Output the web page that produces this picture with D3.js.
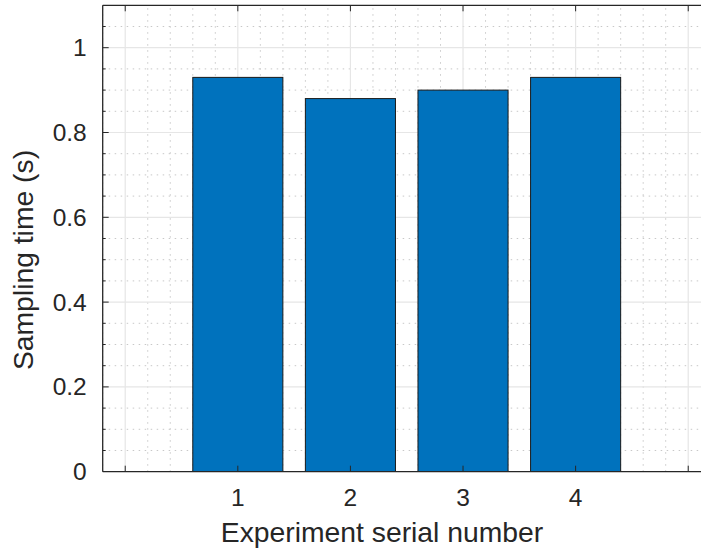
<!DOCTYPE html>
<html>
<head>
<meta charset="utf-8">
<script src="https://cdn.jsdelivr.net/npm/d3@7"></script>
<style>
  body { margin: 0; background: #fff; }
  svg { display: block; font-family: "Liberation Sans", Arial, sans-serif; }
</style>
</head>
<body>
<svg id="chart" width="701" height="550"></svg>
<script>
// data
const experiments = [1, 2, 3, 4];
const samplingTimes = [0.93, 0.88, 0.90, 0.93];
const yTicks = [0, 0.2, 0.4, 0.6, 0.8, 1];
const xTicks = [1, 2, 3, 4];

const W = 701, H = 550;
const margin = {left: 102.7, top: 5.3, bottom: 471.7};
const svg = d3.select("#chart");

// axis spans -0.2..5.2, right edge falls outside the window
const x = d3.scaleLinear().domain([-0.2, 5.2]).range([margin.left, margin.left + 5.4 * 112.6]);
const y = d3.scaleLinear().domain([0, 1.1]).range([margin.bottom, margin.top]);

svg.append("defs").append("clipPath").attr("id", "plotclip")
  .append("rect")
  .attr("x", x(-0.2)).attr("y", y(1.1))
  .attr("width", x(5.2) - x(-0.2)).attr("height", y(0) - y(1.1));

const g = svg.append("g").attr("clip-path", "url(#plotclip)");

// minor grid
const xMinor = d3.range(-0.2, 5.21, 0.2).map(v => +v.toFixed(2)).filter(v => Math.abs(v - Math.round(v)) > 1e-6);
const yMinor = d3.range(0, 1.101, 0.05).map(v => +v.toFixed(2)).filter(v => Math.abs(v * 5 - Math.round(v * 5)) > 1e-6);

g.selectAll(".xminor").data(xMinor).join("line")
  .attr("x1", d => x(d)).attr("x2", d => x(d))
  .attr("y1", y(0)).attr("y2", y(1.1))
  .attr("stroke", "#c8c8c8").attr("stroke-width", 1).attr("stroke-dasharray", "1.5,4.5");
g.selectAll(".yminor").data(yMinor).join("line")
  .attr("y1", d => y(d)).attr("y2", d => y(d))
  .attr("x1", x(-0.2)).attr("x2", x(5.2))
  .attr("stroke", "#c8c8c8").attr("stroke-width", 1).attr("stroke-dasharray", "1.5,4.5");

// major grid
g.selectAll(".xgrid").data([0, 1, 2, 3, 4, 5]).join("line")
  .attr("x1", d => x(d)).attr("x2", d => x(d))
  .attr("y1", y(0)).attr("y2", y(1.1))
  .attr("stroke", "#e6e6e6").attr("stroke-width", 1.2);
g.selectAll(".ygrid").data(yTicks).join("line")
  .attr("y1", d => y(d)).attr("y2", d => y(d))
  .attr("x1", x(-0.2)).attr("x2", x(5.2))
  .attr("stroke", "#e6e6e6").attr("stroke-width", 1.2);

// bars
g.selectAll(".bar").data(experiments).join("rect")
  .attr("x", (d) => x(d - 0.4))
  .attr("width", x(0.8) - x(0))
  .attr("y", (d, i) => y(samplingTimes[i]))
  .attr("height", (d, i) => y(0) - y(samplingTimes[i]))
  .attr("fill", "#0072BD")
  .attr("stroke", "#1a1a1a").attr("stroke-width", 1);

// axes
const axisColor = "#262626";
const gx = svg.append("g").attr("clip-path", "url(#plotclip)");
// bottom / top ticks
[y(0), y(1.1)].forEach((yy, k) => {
  const dir = k === 0 ? -1 : 1;
  gx.selectAll(null).data([0, 1, 2, 3, 4, 5]).join("line")
    .attr("x1", d => x(d)).attr("x2", d => x(d))
    .attr("y1", yy).attr("y2", yy + dir * 6)
    .attr("stroke", axisColor).attr("stroke-width", 1);
});
// left minor/major ticks
gx.selectAll(null).data(yTicks).join("line")
  .attr("x1", x(-0.2)).attr("x2", x(-0.2) + 6)
  .attr("y1", d => y(d)).attr("y2", d => y(d))
  .attr("stroke", axisColor);
gx.selectAll(null).data(yMinor).join("line")
  .attr("x1", x(-0.2)).attr("x2", x(-0.2) + 3)
  .attr("y1", d => y(d)).attr("y2", d => y(d))
  .attr("stroke", axisColor);

svg.append("line").attr("x1", x(-0.2)).attr("x2", W).attr("y1", y(0)).attr("y2", y(0))
  .attr("stroke", axisColor).attr("stroke-width", 1.3);
svg.append("line").attr("x1", x(-0.2)).attr("x2", W).attr("y1", y(1.1)).attr("y2", y(1.1))
  .attr("stroke", axisColor).attr("stroke-width", 1.3);
svg.append("line").attr("x1", x(-0.2)).attr("x2", x(-0.2)).attr("y1", y(0)).attr("y2", y(1.1))
  .attr("stroke", axisColor).attr("stroke-width", 1.3);

// tick labels
svg.selectAll(".ylab").data(yTicks).join("text")
  .attr("x", x(-0.2) - 16).attr("y", d => y(d))
  .attr("text-anchor", "end").attr("dominant-baseline", "central")
  .attr("font-size", 24.5).attr("fill", axisColor)
  .text(d => d3.format("~g")(d));
svg.selectAll(".xlab").data(xTicks).join("text")
  .attr("x", d => x(d)).attr("y", 506)
  .attr("text-anchor", "middle")
  .attr("font-size", 24.5).attr("fill", axisColor)
  .text(d => d);

// axis titles
svg.append("text")
  .attr("x", 382).attr("y", 541.7)
  .attr("text-anchor", "middle")
  .attr("font-size", 28.3).attr("fill", axisColor)
  .text("Experiment serial number");
svg.append("text")
  .attr("transform", "translate(33,260) rotate(-90)")
  .attr("text-anchor", "middle")
  .attr("font-size", 28.3).attr("fill", axisColor)
  .text("Sampling time (s)");
</script>
</body>
</html>
